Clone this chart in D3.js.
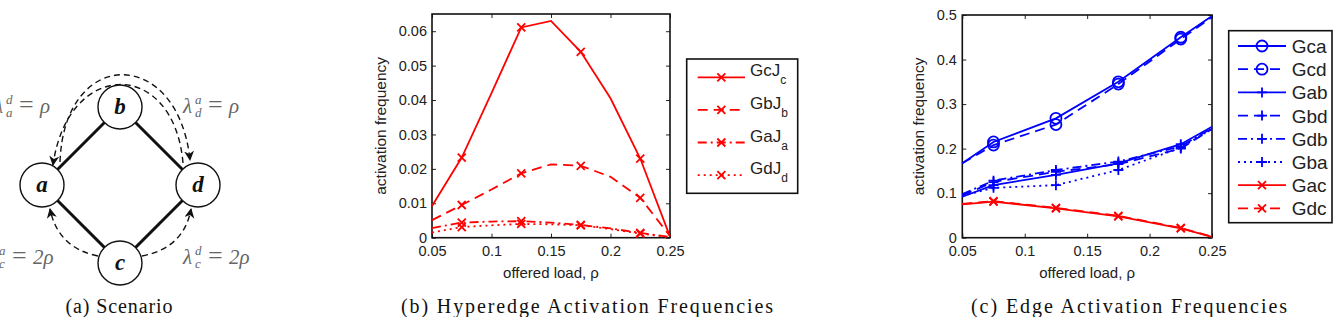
<!DOCTYPE html>
<html lang="en">
<head><meta charset="utf-8"/>
<script src="https://cdn.jsdelivr.net/npm/d3@7"></script>
<style>
body { margin: 0; background: #fff; }
svg text { font-family: "Liberation Sans", Arial, sans-serif; }
.tick text { font-size: 14.5px; fill: #222; }
.tick line { stroke: #222; stroke-width: 1; }
.series { fill: none; stroke-width: 1.8px; }
</style>
</head>
<body>
<svg id="fig" width="1333" height="317"></svg>
<script>

// ---- (b) hyperedge activation frequencies ----
var rhoB = [0.05, 0.075, 0.1, 0.125, 0.15, 0.175, 0.2, 0.225, 0.25];
var GcJc = [0.0092, 0.0233, 0.042, 0.0611, 0.063, 0.054, 0.0405, 0.023, 0.0003];
var GbJb = [0.0051, 0.0095, 0.0140, 0.0187, 0.0213, 0.0209, 0.0177, 0.0116, 0.0005];
var GaJa = [0.0028, 0.0044, 0.0047, 0.0048, 0.0044, 0.0037, 0.0027, 0.0014, 0.0002];
var GdJd = [0.0015, 0.0031, 0.0036, 0.0040, 0.0039, 0.0036, 0.0025, 0.0012, 0.0001];
var namesB = ["GcJ", "GbJ", "GaJ", "GdJ"];
var subsB = ["c", "b", "a", "d"];
var xTicksB = [0.05, 0.1, 0.15, 0.2, 0.25];
var yTicksB = [0, 0.01, 0.02, 0.03, 0.04, 0.05, 0.06];

// ---- (c) edge activation frequencies ----
var rhoC = [0.05, 0.075, 0.125, 0.175, 0.225, 0.25];
var Gca = [0.167, 0.215, 0.268, 0.350, 0.450, 0.498];
var Gcd = [0.167, 0.208, 0.254, 0.345, 0.446, 0.495];
var Gab = [0.092, 0.118, 0.141, 0.167, 0.210, 0.249];
var Gbd = [0.095, 0.125, 0.148, 0.165, 0.200, 0.244];
var Gdb = [0.098, 0.128, 0.152, 0.171, 0.205, 0.246];
var Gba = [0.094, 0.112, 0.118, 0.152, 0.202, 0.245];
var Gac = [0.075, 0.081, 0.066, 0.048, 0.021, 0.002];
var Gdc = [0.076, 0.082, 0.067, 0.049, 0.022, 0.002];
var namesC = ["Gca", "Gcd", "Gab", "Gbd", "Gdb", "Gba", "Gac", "Gdc"];
var xTicksC = [0.05, 0.1, 0.15, 0.2, 0.25];
var yTicksC = [0, 0.1, 0.2, 0.3, 0.4, 0.5];

// markers only on every other sample
var markRho = [0.075, 0.125, 0.175, 0.225];

var captions = ["(a) Scenario", "(b) Hyperedge Activation Frequencies", "(c) Edge Activation Frequencies"];

var SERIF = "'Liberation Serif', 'Times New Roman', serif";
var svg = d3.select("#fig");

var dashes = {solid: null, dash: "10,6", dashdot: "9,4,2,4", dot: "2,4"};

function markerPath(m){
	if(m == "x") return "M-4,-4L4,4M-4,4L4,-4";
	if(m == "+") return "M-5,0L5,0M0,-5L0,5";
	return "M5.5,0A5.5,5.5 0 1,1 -5.5,0A5.5,5.5 0 1,1 5.5,0";
}

function fmt(d){ return String(+d.toFixed(3)); }

function makePanel(o){
	var x = d3.scaleLinear().domain(o.xd).range([o.l, o.r]),
	    y = d3.scaleLinear().domain(o.yd).range([o.b, o.t]);
	var g = svg.append("g");

	g.append("g").attr("transform", "translate(0," + o.b + ")")
		.call(d3.axisBottom(x).tickValues(o.xt).tickSizeInner(-4).tickSizeOuter(0).tickPadding(8).tickFormat(fmt));
	g.append("g").attr("transform", "translate(0," + o.t + ")")
		.call(d3.axisTop(x).tickValues(o.xt).tickSizeInner(-4).tickSizeOuter(0).tickFormat(""));
	g.append("g").attr("transform", "translate(" + o.l + ",0)")
		.call(d3.axisLeft(y).tickValues(o.yt).tickSizeInner(-4).tickSizeOuter(0).tickPadding(o.pad).tickFormat(fmt));
	g.append("g").attr("transform", "translate(" + o.r + ",0)")
		.call(d3.axisRight(y).tickValues(o.yt).tickSizeInner(-4).tickSizeOuter(0).tickFormat(""));
	g.selectAll(".domain").remove();
	g.selectAll(".tick text").attr("font-family", null).attr("font-size", null);

	g.append("rect").attr("x", o.l).attr("y", o.t)
		.attr("width", o.r - o.l).attr("height", o.b - o.t)
		.attr("fill", "none").attr("stroke", "#111").attr("stroke-width", 1.6);

	g.append("text").attr("transform", "translate(" + o.ylx + "," + ((o.t + o.b) / 2) + ") rotate(-90)")
		.attr("text-anchor", "middle").attr("dy", "0.35em")
		.style("font-size", "15.5px").attr("fill", "#222").text("activation frequency");
	g.append("text").attr("x", (o.l + o.r) / 2).attr("y", 278)
		.attr("text-anchor", "middle").style("font-size", "15px").attr("fill", "#222")
		.text("offered load, \u03c1");

	return {x: x, y: y, g: g};
}

function drawSeries(p, xs, ys, color, dash, marker){
	var line = d3.line().x((d, i) => p.x(xs[i])).y(d => p.y(d));
	p.g.append("path").datum(ys).attr("class", "series")
		.attr("d", line).attr("stroke", color).attr("stroke-dasharray", dashes[dash]);
	var pts = xs.map((v, i) => ({x: v, y: ys[i]})).filter(d => markRho.indexOf(d.x) >= 0);
	p.g.selectAll(null).data(pts).enter().append("path")
		.attr("transform", d => "translate(" + p.x(d.x) + "," + p.y(d.y) + ")")
		.attr("d", markerPath(marker))
		.attr("fill", "none").attr("stroke", color).attr("stroke-width", 1.8);
}

function legendBox(x0, y0, x1, y1){
	svg.append("rect").attr("x", x0).attr("y", y0).attr("width", x1 - x0).attr("height", y1 - y0)
		.attr("fill", "#fff").attr("stroke", "#111").attr("stroke-width", 1.6);
}

function legendSample(x0, x1, y, color, dash, marker){
	svg.append("line").attr("x1", x0).attr("x2", x1).attr("y1", y).attr("y2", y)
		.attr("stroke", color).attr("stroke-width", 1.8).attr("stroke-dasharray", dashes[dash]);
	svg.append("path").attr("transform", "translate(" + ((x0 + x1) / 2) + "," + y + ")")
		.attr("d", markerPath(marker)).attr("fill", "none").attr("stroke", color).attr("stroke-width", 1.8);
}

// ---- panel (b) ----
var pb = makePanel({l: 432, r: 670, t: 14, b: 237.7, xd: [0.05, 0.25], yd: [0, 0.065],
	xt: xTicksB, yt: yTicksB, pad: 5, ylx: 381});
var seriesB = [GcJc, GbJb, GaJa, GdJd];
var styleB = ["solid", "dash", "dashdot", "dot"];
seriesB.forEach((s, i) => drawSeries(pb, rhoB, s, "#ff0000", styleB[i], "x"));

legendBox(686.7, 59, 797.7, 193.3);
namesB.forEach(function(n, i){
	var yy = 77.3 + i * 32.6;
	legendSample(697.7, 745, yy, "#ff0000", styleB[i], "x");
	var t = svg.append("text").attr("x", 750).attr("y", yy - 1).style("font-size", "17px").attr("fill", "#222");
	t.append("tspan").text(n);
	t.append("tspan").attr("dy", 8).style("font-size", "12px").text(subsB[i]);
});

// ---- panel (c) ----
var pc = makePanel({l: 962.3, r: 1212, t: 15, b: 237.7, xd: [0.05, 0.25], yd: [0, 0.5],
	xt: xTicksC, yt: yTicksC, pad: 5.5, ylx: 919});
var seriesC = [Gca, Gcd, Gab, Gbd, Gdb, Gba, Gac, Gdc];
var colorC = ["#0000ff", "#0000ff", "#0000ff", "#0000ff", "#0000ff", "#0000ff", "#ff0000", "#ff0000"];
var styleC = ["solid", "dash", "solid", "dash", "dashdot", "dot", "solid", "dash"];
var markC = ["o", "o", "+", "+", "+", "+", "x", "x"];
seriesC.forEach((s, i) => drawSeries(pc, rhoC, s, colorC[i], styleC[i], markC[i]));

legendBox(1228.7, 30.7, 1332, 222.7);
namesC.forEach(function(n, i){
	var yy = 46 + i * 23.2;
	legendSample(1238, 1286, yy, colorC[i], styleC[i], markC[i]);
	svg.append("text").attr("x", 1291.7).attr("y", yy + 7).style("font-size", "19px")
		.attr("fill", "#222").text(n);
});

// ---- panel (a): scenario diagram ----
var ga = svg.append("g");
var defs = svg.append("defs");
defs.append("marker").attr("id", "arr").attr("markerUnits", "userSpaceOnUse")
	.attr("markerWidth", 12).attr("markerHeight", 12).attr("refX", 9).attr("refY", 5)
	.attr("orient", "auto")
	.append("path").attr("d", "M0,0L10,5L0,10L3,5Z").attr("fill", "#111");

var nodes = {a: [42, 185], b: [120, 107], c: [120, 263], d: [198, 185]};
[["a", "b"], ["b", "d"], ["a", "c"], ["c", "d"]].forEach(function(e){
	ga.append("line").attr("x1", nodes[e[0]][0]).attr("y1", nodes[e[0]][1])
		.attr("x2", nodes[e[1]][0]).attr("y2", nodes[e[1]][1])
		.attr("stroke", "#111").attr("stroke-width", 3);
});

var arcs = [
	"M60,162 C64,46 178,46 190,160",
	"M183,163 C174,58 68,58 53,165",
	"M98,256 Q58,248 50,209",
	"M142,256 Q184,248 191,209"
];
arcs.forEach(function(a){
	ga.append("path").attr("d", a).attr("fill", "none").attr("stroke", "#111")
		.attr("stroke-width", 1.4).attr("stroke-dasharray", "6,4").attr("marker-end", "url(#arr)");
});

Object.keys(nodes).forEach(function(k){
	ga.append("circle").attr("cx", nodes[k][0]).attr("cy", nodes[k][1]).attr("r", 22)
		.attr("fill", "#fff").attr("stroke", "#111").attr("stroke-width", 1.4);
	ga.append("text").attr("x", nodes[k][0]).attr("y", nodes[k][1])
		.attr("dy", "0.32em").attr("text-anchor", "middle").style("font-family", SERIF)
		.style("font-size", "23px").style("font-weight", "bold").style("font-style", "italic")
		.attr("fill", "#111").text(k);
});

function lambda(x, y, sup, sub, rhs){
	var lg = ga.append("g").attr("fill", "#666").style("font-family", SERIF);
	lg.append("text").attr("x", x).attr("y", y)
		.style("font-family", SERIF).style("font-size", "21px").style("font-style", "italic").text("\u03bb");
	lg.append("text").attr("x", x + 12).attr("y", y - 9)
		.style("font-family", SERIF).style("font-size", "13px").style("font-style", "italic").text(sup);
	lg.append("text").attr("x", x + 12).attr("y", y + 4)
		.style("font-family", SERIF).style("font-size", "13px").style("font-style", "italic").text(sub);
	lg.append("text").attr("x", x + 25).attr("y", y)
		.style("font-family", SERIF).style("font-size", "26px").text("=");
	lg.append("text").attr("x", x + 46).attr("y", y)
		.style("font-family", SERIF).style("font-size", "21px").style("font-style", "italic").text(rhs);
}
lambda(-6, 113, "d", "a", "\u03c1");
lambda(183, 113, "a", "d", "\u03c1");
lambda(-13, 264, "a", "c", "2\u03c1");
lambda(183, 264, "d", "c", "2\u03c1");

// ---- captions ----
var capPos = [[119, 107], [587, 372], [1129, 316]];
captions.forEach(function(c, i){
	svg.append("text").attr("x", capPos[i][0] - capPos[i][1] / 2).attr("y", 313)
		.attr("textLength", capPos[i][1]).attr("lengthAdjust", "spacing")
		.style("font-family", SERIF).style("font-size", "20px").attr("fill", "#111").text(c);
});
</script>
</body>
</html>
